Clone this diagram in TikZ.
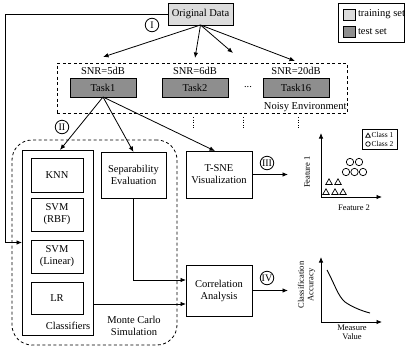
\documentclass[tikz,border=0pt]{standalone}
\usepackage{fontspec}
\setmainfont{Liberation Serif}
\usetikzlibrary{arrows.meta,calc}
\definecolor{lightfill}{HTML}{DCDCDC}
\definecolor{darkfill}{HTML}{8E8E8E}
\tikzset{
  box/.style={draw, line width=1pt, inner sep=1pt, outer sep=0pt, align=center, font=\fontsize{10.5}{12}\selectfont},
  lbl/.style={inner sep=0pt, outer sep=0pt, align=center, font=\fontsize{10.5}{12}\selectfont},
  small/.style={inner sep=0pt, outer sep=0pt, align=center, font=\fontsize{8.5}{9.5}\selectfont},
  tiny/.style={inner sep=0pt, outer sep=0pt, align=left, font=\fontsize{7.5}{8.5}\selectfont},
  arr/.style={line width=0.8pt, -{Latex[length=5.5pt,width=4.5pt]}},
  roman/.style={draw, circle, line width=0.8pt, inner sep=0pt, minimum size=13.5pt, font=\fontsize{10}{11}\selectfont},
  dashbox/.style={draw, dash pattern=on 3pt off 2.5pt, line width=0.8pt, inner sep=0pt, outer sep=0pt},
  dotmark/.style={line width=1pt, dash pattern=on 1pt off 1.6pt},
}
\begin{document}
\begin{tikzpicture}[x=1pt,y=-1pt]
\useasboundingbox (0,0) rectangle (405,349);

% legend
\node[draw, line width=0.8pt, minimum width=66pt, minimum height=39pt, inner sep=0pt] (legbox) at (371,22.5) {};
\node[draw, line width=0.8pt, fill=lightfill, minimum width=12pt, minimum height=11pt, inner sep=0pt] (legtrain) at (349,14.5) {};
\node[draw, line width=0.8pt, fill=darkfill, minimum width=12pt, minimum height=11pt, inner sep=0pt] (legtest) at (349,32) {};
\node[lbl, anchor=west] (legtraintxt) at (358,14.5) {training set};
\node[lbl, anchor=west] (legtesttxt) at (358,32) {test set};

% original data
\node[box, fill=lightfill, minimum width=65pt, minimum height=22pt] (orig) at (200.5,14) {Original Data};

% noisy environment
\node[dashbox, minimum width=290pt, minimum height=50pt] (noisy) at (202,88) {};
\node[lbl, anchor=south east] (noisytxt) at (346.5,112) {Noisy Environment};
\node[lbl] (snr1) at (103,71) {SNR=5dB};
\node[lbl] (snr2) at (195,71) {SNR=6dB};
\node[lbl] (snr3) at (296,71) {SNR=20dB};
\node[box, fill=darkfill, minimum width=66pt, minimum height=19pt] (task1) at (103,87.5) {Task1};
\node[box, fill=darkfill, minimum width=66pt, minimum height=19pt] (task2) at (195,87.5) {Task2};
\node[box, fill=darkfill, minimum width=66pt, minimum height=19pt] (task16) at (296,87.5) {Task16};
\node[lbl] (dots) at (248,87) {...};

\coordinate (a1) at (103,57);
\coordinate (a2) at (195,58);
\coordinate (a3) at (233,53);
\coordinate (a4) at (295,61);
\draw[arr] (orig.south) -- (a1);
\draw[arr] (orig.south) -- (a2);
\draw[arr] (orig.south) -- (a3);
\draw[arr] (orig.south) -- (a4);
\node[roman] (rI) at (152,25) {I};

% dotted marks
\foreach \x/\n in {193/d1,243/d2,298/d3}{
  \coordinate (\n a) at (\x,117);
  \coordinate (\n b) at (\x,128);
  \draw[dotmark] (\n a) -- (\n b);
}

% Monte Carlo region
\node[dashbox, rounded corners=20pt, minimum width=165pt, minimum height=205pt] (monte) at (94.5,242.5) {};
\node[lbl] (montetxt) at (134,326) {Monte Carlo\\Simulation};

% classifiers
\node[box, minimum width=71pt, minimum height=185pt] (classif) at (57.5,242.5) {};
\node[lbl] (classiftxt) at (68,326) {Classifiers};
\node[box, minimum width=52pt, minimum height=34pt] (knn) at (57,175) {KNN};
\node[box, minimum width=52pt, minimum height=33pt] (rbf) at (57,214.5) {SVM\\(RBF)};
\node[box, minimum width=52pt, minimum height=33pt] (lin) at (57,256.5) {SVM\\(Linear)};
\node[box, minimum width=52pt, minimum height=32pt] (lr) at (57,298) {LR};

\node[box, minimum width=65pt, minimum height=46pt] (sep) at (133.5,175) {Separability\\Evaluation};
\node[box, minimum width=66pt, minimum height=47pt] (tsne) at (219,174.5) {T-SNE\\Visualization};
\node[box, minimum width=66pt, minimum height=51pt] (corr) at (219,290.5) {Correlation\\Analysis};

% arrows from task1
\draw[arr] (task1.south) -- ([xshift=2.5pt]classif.north);
\draw[arr] (task1.south) -- (sep.north);
\draw[arr] (task1.south) -- ([xshift=-4pt]tsne.north);
\node[roman] (rII) at (62,127) {II};

% left feed
\draw[arr] (orig.west) -- ++(-163,0) |- (classif.west);

% to correlation
\draw[arr] (sep.south) |- ([yshift=10.5pt]corr.west);
\draw[arr] (classif.east |- 0,304) -- ([yshift=-13.5pt]corr.west);

% outputs
\draw[arr] (tsne.east) -- ++(36,0);
\node[roman] (rIII) at (267,163) {III};
\draw[arr] (corr.east) -- ++(36,0);
\node[roman] (rIV) at (267,278) {IV};

% scatter plot
\coordinate (so) at (321,197);
\draw[arr] (so) -- (321,133);
\draw[arr] (so) -- (382,197);
\node[small, rotate=90] (f1) at (307,172) {Feature 1};
\node[small] (f2) at (354,208) {Feature 2};
\node[draw, line width=0.7pt, minimum width=35pt, minimum height=20pt, inner sep=0pt] (slegbox) at (380,139) {};
\draw[line width=0.7pt] (365.7,137.2) -- (370.3,137.2) -- (368,133.2) -- cycle;
\draw[line width=0.7pt] (368,144) circle (2.3);
\node[tiny, anchor=west] (c1) at (371.5,135) {Class 1};
\node[tiny, anchor=west] (c2) at (371.5,144) {Class 2};
\foreach \x/\y in {329/182,338/182,326/192,335/192,343/192}{
  \draw[line width=0.7pt] (\x-3.2,\y+2.4) -- (\x+3.2,\y+2.4) -- (\x,\y-3.2) -- cycle;
}
\foreach \x/\y in {350/162,359/162,346/172,354.5/172,363/172}{
  \draw[line width=0.7pt] (\x,\y) circle (3.7);
}

% accuracy plot
\coordinate (ao) at (321,322);
\draw[arr] (ao) -- (321,257);
\draw[arr] (ao) -- (382,322);
\node[small, rotate=90] (ca) at (306.5,285) {Classification\\Accuracy};
\node[small] (mv) at (352,332.5) {Measure\\Value};
\draw[line width=0.9pt] (327,270) .. controls (335,285) and (338,296) .. (345,302) .. controls (352,307) and (362,311) .. (370,313);
\end{tikzpicture}
\end{document}
